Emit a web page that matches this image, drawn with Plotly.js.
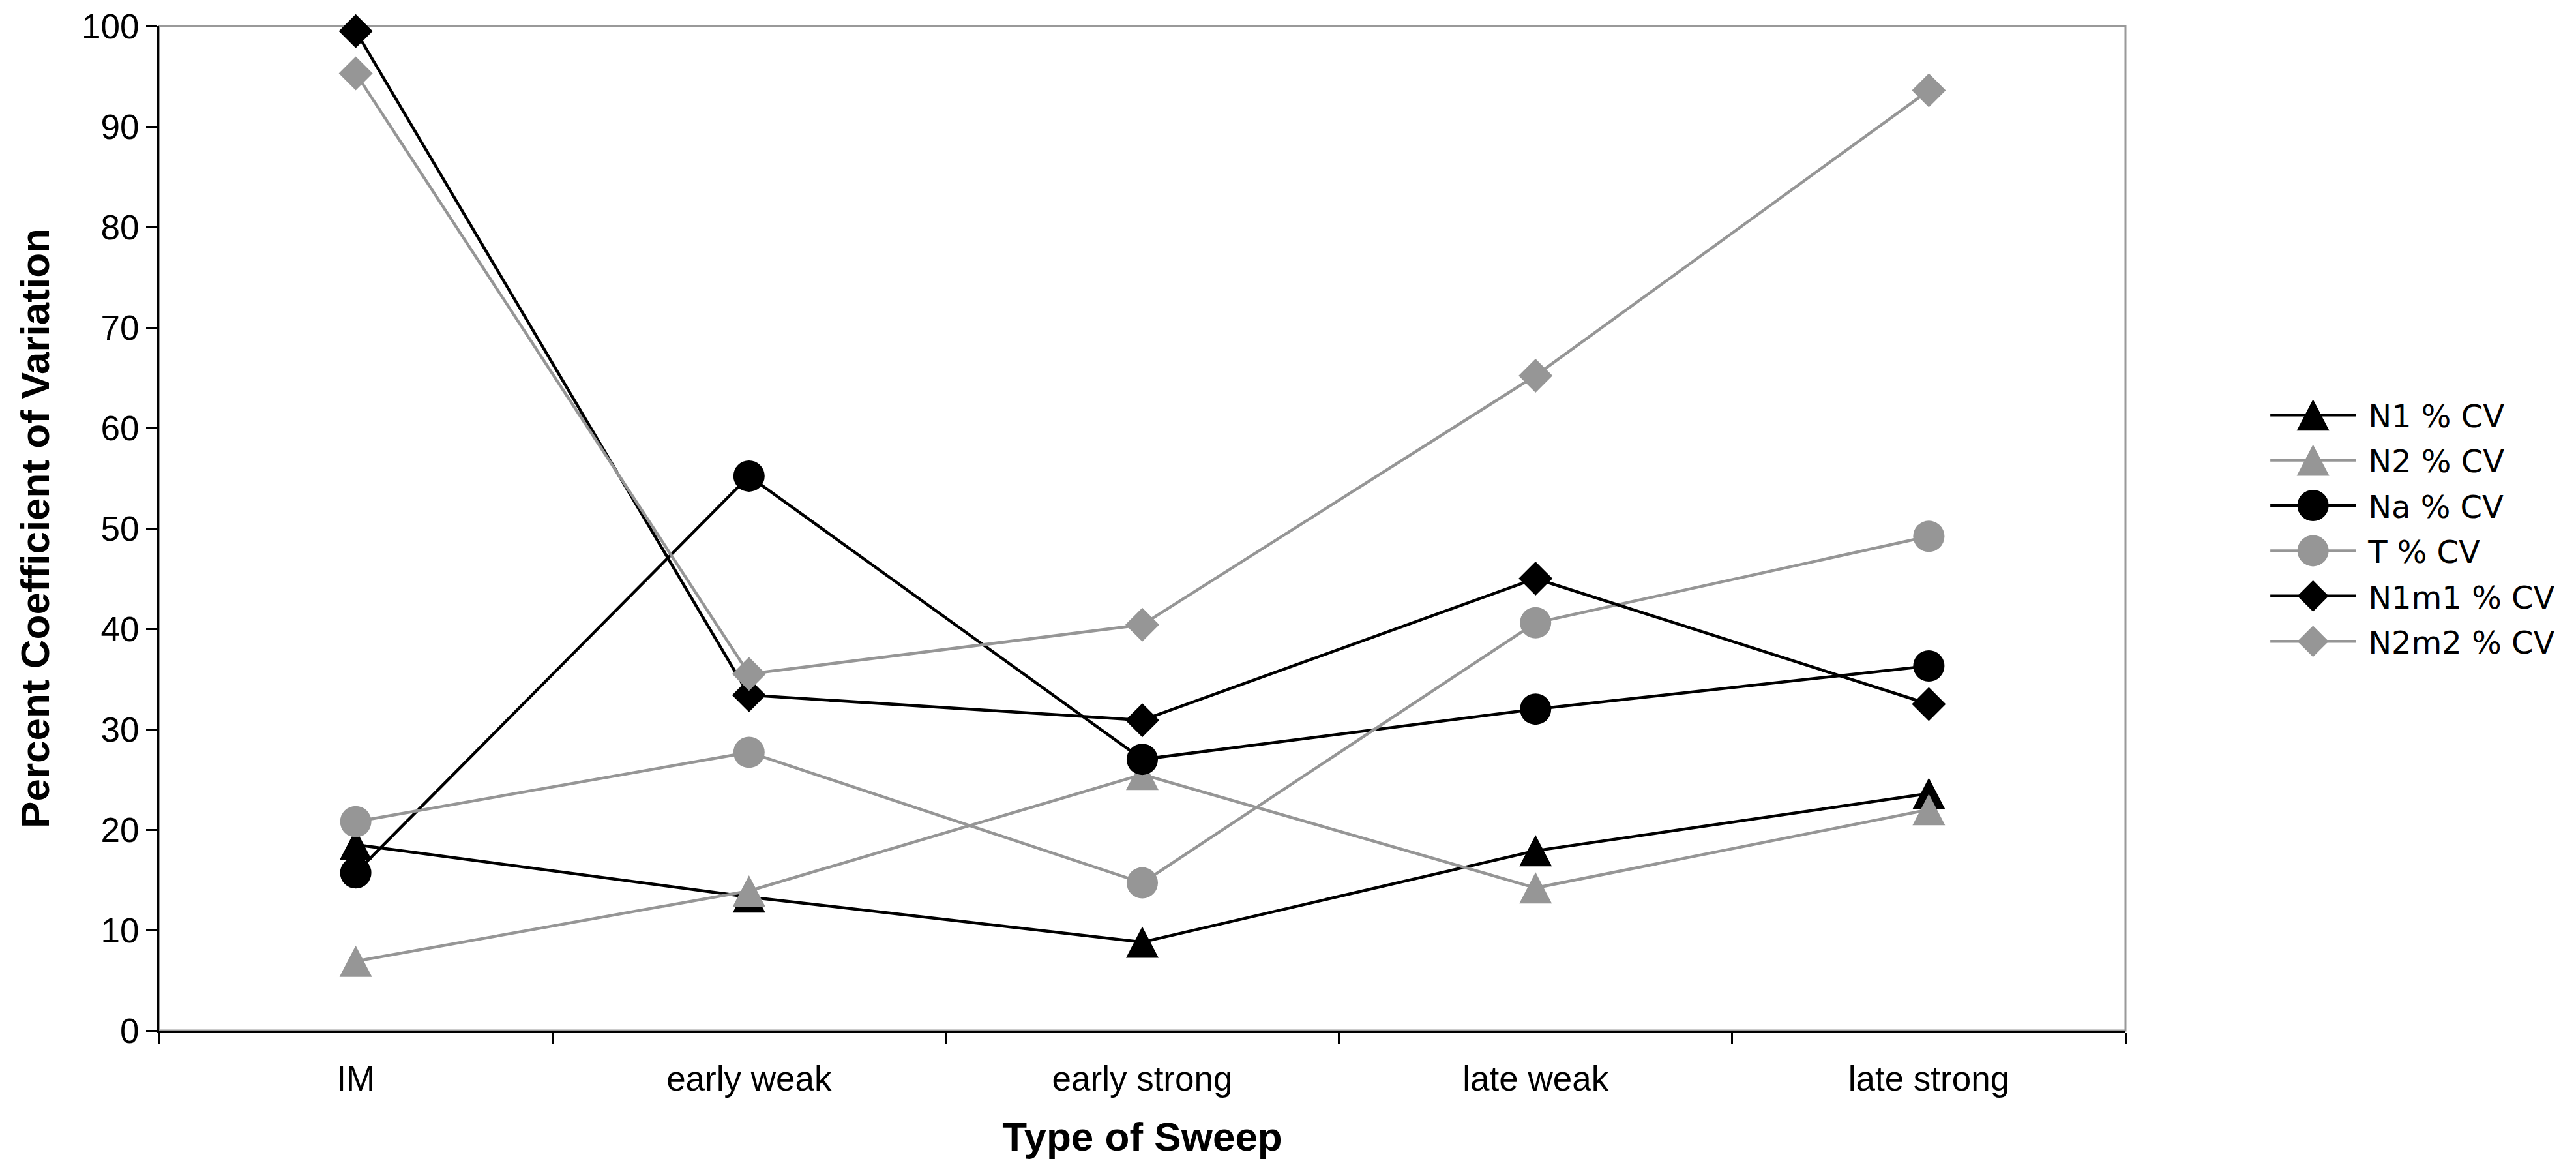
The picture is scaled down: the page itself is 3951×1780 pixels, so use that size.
<!DOCTYPE html>
<html>
<head>
<meta charset="utf-8">
<script src="https://cdn.plot.ly/plotly-3.0.1.min.js"></script>
<style>
  html, body { margin: 0; padding: 0; background: #ffffff; }
  #chart { width: 3951px; height: 1780px; }
</style>
</head>
<body>
<div id="chart"></div>
<script>
// Sweep categories along the x axis
const sweepTypes = ['IM', 'early weak', 'early strong', 'late weak', 'late strong'];

// Percent coefficient of variation for each statistic
const n1CV   = [18.5, 13.3,  8.8, 17.9, 23.6];
const n2CV   = [ 6.9, 13.9, 25.5, 14.2, 22.0];
const naCV   = [15.7, 55.2, 27.0, 32.0, 36.3];
const tCV    = [20.8, 27.7, 14.7, 40.6, 49.2];
const n1m1CV = [99.5, 33.4, 30.9, 45.0, 32.5];
const n2m2CV = [95.3, 35.5, 40.4, 65.2, 93.6];

const seriesNames = ['N1 % CV', 'N2 % CV', 'Na % CV', 'T % CV', 'N1m1 % CV', 'N2m2 % CV'];
const seriesValues = [n1CV, n2CV, naCV, tCV, n1m1CV, n2m2CV];

const BLACK = '#000000';
const GREY = '#969696';
const seriesColors  = [BLACK, GREY, BLACK, GREY, BLACK, GREY];
const seriesSymbols = ['triangle-up', 'triangle-up', 'circle', 'circle', 'diamond', 'diamond'];
const symbolSizes   = { 'triangle-up': 44, 'circle': 48, 'diamond': 40 };

const traces = seriesNames.map((name, i) => ({
  type: 'scatter',
  mode: 'lines+markers',
  name: name,
  legendgroup: name,
  x: sweepTypes,
  y: seriesValues[i],
  cliponaxis: false,
  line: { color: seriesColors[i], width: 4.5 },
  marker: {
    symbol: seriesSymbols[i],
    size: symbolSizes[seriesSymbols[i]],
    color: seriesColors[i],
    line: { width: 0 }
  }
}));

const TICK_FONT = '"Liberation Sans", Arial, Helvetica, sans-serif';

const layout = {
  width: 3951,
  height: 1780,
  margin: { l: 244, r: 691, t: 40, b: 200, pad: 0 },
  paper_bgcolor: '#ffffff',
  plot_bgcolor: '#ffffff',
  font: { family: TICK_FONT, color: '#000000', size: 52 },
  showlegend: true,
  xaxis: {
    type: 'category',
    categoryorder: 'array',
    categoryarray: sweepTypes,
    range: [-0.5, 4.5],
    tickson: 'boundaries',
    ticks: 'outside',
    ticklen: 17,
    tickwidth: 3,
    tickcolor: '#000000',
    ticklabelstandoff: 25,
    showline: true,
    linecolor: '#000000',
    linewidth: 3,
    showgrid: false,
    zeroline: false,
    automargin: false,
    tickfont: { family: TICK_FONT, size: 53, color: '#000000' },
    title: {
      text: 'Type of Sweep',
      standoff: 40,
      font: { family: TICK_FONT, size: 62, color: '#000000', weight: 'bold' }
    }
  },
  yaxis: {
    range: [0, 100],
    tick0: 0,
    dtick: 10,
    ticks: 'outside',
    ticklen: 17,
    tickwidth: 3,
    tickcolor: '#000000',
    showline: true,
    linecolor: '#000000',
    linewidth: 3,
    showgrid: false,
    zeroline: false,
    automargin: false,
    tickfont: { family: TICK_FONT, size: 53, color: '#000000' },
    title: {
      text: 'Percent Coefficient of Variation',
      standoff: 30,
      font: { family: TICK_FONT, size: 62, color: '#000000', weight: 'bold' }
    }
  },
  legend: {
    x: 1.072,
    xanchor: 'left',
    y: 0.5,
    yanchor: 'middle',
    traceorder: 'grouped',
    tracegroupgap: 4,
    itemwidth: 145,
    bgcolor: 'rgba(0,0,0,0)',
    borderwidth: 0,
    font: { family: '"DejaVu Sans", Verdana, sans-serif', size: 48, color: '#000000' }
  },
  // grey plot-area frame; the black axis lines sit on top of its left and bottom edges
  shapes: [{
    type: 'rect', xref: 'paper', yref: 'paper',
    x0: 0, x1: 1, y0: 0, y1: 1,
    line: { color: '#999999', width: 3 },
    layer: 'below'
  }]
};

// Marker outlines drawn larger than the legend's built-in size cap allows
const TRIANGLE_PATH = 'M-25,24H25L0,-24Z';
const CIRCLE_PATH = 'M24,0A24,24 0 1,1 0,-24A24,24 0 0,1 24,0Z';
const DIAMOND_PATH = 'M24,0L0,24L-24,0L0,-24Z';
const legendGlyph = { 'triangle-up': TRIANGLE_PATH, 'circle': CIRCLE_PATH, 'diamond': DIAMOND_PATH };

function refineGlyphs(gd) {
  // upright, equal-sided triangles on the plotted points
  const traceGroups = gd.querySelectorAll('.scatterlayer .trace');
  traceGroups.forEach((g, i) => {
    if (seriesSymbols[i] === 'triangle-up') {
      g.querySelectorAll('path.point').forEach(p => p.setAttribute('d', TRIANGLE_PATH));
    }
  });
  // longer legend lines with full-size markers
  const items = gd.querySelectorAll('.legend .traces');
  items.forEach((item, i) => {
    const line = item.querySelector('.legendlines path');
    if (line) {
      line.setAttribute('d', 'M5,0h131');
      line.style.strokeWidth = '4.5px';
    }
    const pt = item.querySelector('.legendpoints path.scatterpts');
    if (pt) {
      pt.setAttribute('transform', 'translate(70.5,0)');
      pt.setAttribute('d', legendGlyph[seriesSymbols[i]]);
    }
  });
}

const gd = document.getElementById('chart');
Plotly.newPlot(gd, traces, layout, { staticPlot: true, displayModeBar: false })
  .then(() => refineGlyphs(gd));
</script>
</body>
</html>
